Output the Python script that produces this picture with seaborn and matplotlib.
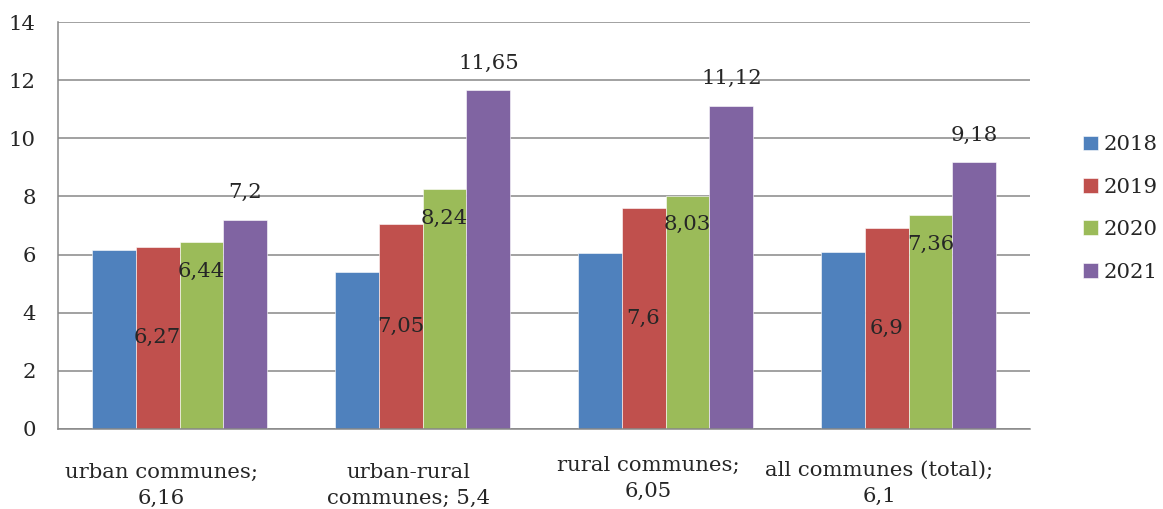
import matplotlib
matplotlib.use("Agg")
import matplotlib.pyplot as plt
import seaborn as sns
import pandas as pd

# ---- data ----
categories = ["urban communes", "urban-rural communes", "rural communes", "all communes (total)"]
category_text = ["urban communes;\n{}", "urban-rural\ncommunes; {}", "rural communes;\n{}", "all communes (total);\n{}"]
years = ["2018", "2019", "2020", "2021"]
v2018 = [6.16, 5.4, 6.05, 6.1]
v2019 = [6.27, 7.05, 7.6, 6.9]
v2020 = [6.44, 8.24, 8.03, 7.36]
v2021 = [7.2, 11.65, 11.12, 9.18]
yticks = [0, 2, 4, 6, 8, 10, 12, 14]
colors = ["#4F81BD", "#C0504D", "#9BBB59", "#8064A2"]

series = [v2018, v2019, v2020, v2021]
rows = []
for y, vals in zip(years, series):
    for c, v in zip(categories, vals):
        rows.append({"category": c, "year": y, "value": v})
df = pd.DataFrame(rows)

def fmt(v):
    return f"{v:g}".replace(".", ",")

sns.set_style("white")
FONT = "DejaVu Serif"
plt.rcParams["font.family"] = [FONT]
FS = 15.3
GRID = "#878787"

fig = plt.figure(figsize=(11.63, 5.09), dpi=100)
W, H = 1163, 509
ax = fig.add_axes([58 / W, 1 - 429 / H, (1030 - 58) / W, (429 - 22) / H])

sns.barplot(data=df, x="category", y="value", hue="year", hue_order=years,
            order=categories, palette=colors, saturation=1, width=0.724,
            gap=0, errorbar=None, ax=ax, edgecolor="white", linewidth=0.4)

ax.set_ylim(0, 14)
ax.set_yticks(yticks)
ax.set_yticklabels([str(t) for t in yticks], fontsize=FS)
ax.set_xlim(-0.5, len(categories) - 0.5)
ax.set_xticks(range(len(categories)))
ax.set_xticklabels([""] * len(categories))
ax.tick_params(axis="both", length=0)
ax.tick_params(axis="y", pad=16)
ax.set_xlabel("")
ax.set_ylabel("")
ax.set_axisbelow(True)
ax.yaxis.grid(True, color=GRID, linewidth=1.1)
ax.xaxis.grid(False)
for s in ["top", "right"]:
    ax.spines[s].set_visible(False)
for s in ["left", "bottom"]:
    ax.spines[s].set_color(GRID)
    ax.spines[s].set_linewidth(1.1)

# bar labels
conts = ax.containers
for bar, v in zip(conts[1], v2019):
    ax.text(bar.get_x() + bar.get_width() / 2, bar.get_height() / 2, fmt(v),
            ha="center", va="center", fontsize=FS)
for bar, v in zip(conts[2], v2020):
    ax.annotate(fmt(v), (bar.get_x() + bar.get_width() / 2, bar.get_height()),
                xytext=(0, -21), textcoords="offset points",
                ha="center", va="center", fontsize=FS)
for bar, v in zip(conts[3], v2021):
    ax.annotate(fmt(v), (bar.get_x() + bar.get_width() / 2, bar.get_height()),
                xytext=(0, 19.5), textcoords="offset points",
                ha="center", va="center", fontsize=FS)

# category labels (carry 2018 values), one text per line, baseline-aligned
label_dx = [-18, -14, -17, -29]      # pixel offsets from category centre
label_base = [478, 478, 471, 476]    # pixel baseline of first line
line_gap = 26                         # pixel distance between baselines
for i, (tpl, v) in enumerate(zip(category_text, v2018)):
    x_disp = ax.transData.transform((i, 0))[0] + label_dx[i]
    for k, line in enumerate(tpl.format(fmt(v)).split("\n")):
        fig.text(x_disp / W, 1 - (label_base[i] + k * line_gap) / H, line,
                 ha="center", va="baseline", fontsize=FS)

# legend
handles, labels = ax.get_legend_handles_labels()
ax.get_legend().remove()
fig.legend(handles, labels, loc="center left", bbox_to_anchor=(1083 / W, 1 - 208.5 / H),
           frameon=False, fontsize=FS, handlelength=0.7, handleheight=0.7,
           handletextpad=0.25, labelspacing=1.1, borderpad=0, borderaxespad=0)

fig.savefig("out.png", dpi=100)
